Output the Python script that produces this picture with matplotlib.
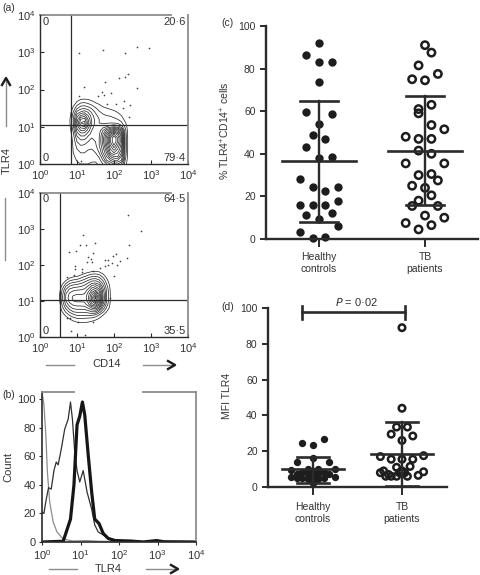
#!/usr/bin/env python3
"""Flow cytometry panels (a, b) and TLR4 scatter panels (c, d)."""
import matplotlib
matplotlib.use('Agg')
import matplotlib.pyplot as plt
import numpy as np

plt.rcParams['font.family'] = ['Liberation Sans', 'DejaVu Sans']
plt.rcParams['mathtext.default'] = 'regular'

W, H = 480, 575
DARK = '#2b2b2b'
GRAY = '#8c8c8c'
TXT = '#333333'

# --- panel (a) top: log10 density grid, rows from low to high TLR4
top_lx = [0.8, 0.9, 1.0, 1.1, 1.2, 1.3, 1.4, 1.5, 1.6, 1.7, 1.8, 1.9, 2.0, 2.1, 2.2, 2.3, 2.4]
top_ly = [0.0, 0.1, 0.2, 0.3, 0.4, 0.5, 0.6, 0.7, 0.8, 0.9, 1.0, 1.1, 1.2, 1.3, 1.4, 1.5, 1.6, 1.7, 1.8]
top_density = [
    [0, .3, .8, 1.0, 1.0, 1.0, .9, .9, 1.1, 2, 3, 4, 5, 5, 4, 1.5, 0],
    [0, .5, 1.1, 1.3, 1.3, 1.2, 1.1, 1.1, 1.6, 3, 5, 6, 7, 7, 6, 2, 0],
    [0, .8, 1.4, 1.6, 1.6, 1.4, 1.3, 1.5, 2.2, 4, 6, 8, 9, 9, 7, 2.5, 0],
    [0, 1.0, 1.7, 2.0, 2.0, 1.7, 1.6, 2.0, 3, 5, 7, 10, 11, 10, 8, 2.8, 0],
    [0, 1.1, 2.0, 2.5, 2.4, 2.1, 2.0, 2.5, 3.5, 5.5, 8, 11, 12.5, 11, 9, 3, 0],
    [0, 1.2, 2.4, 3.0, 2.9, 2.5, 2.4, 2.8, 4, 6, 9, 12, 14, 12, 9.5, 3, 0],
    [.1, 1.3, 3, 3.6, 3.5, 3, 2.8, 3, 4, 6.5, 9.5, 13, 15, 13, 10, 3, 0],
    [.2, 1.5, 3.6, 4.5, 4.5, 3.6, 3, 3.2, 4, 6.5, 9.5, 13, 15, 13, 10, 3, 0],
    [.3, 1.8, 4.5, 5.5, 5.5, 4.5, 3.5, 3.2, 3.8, 6, 8.5, 11, 13, 11.5, 9, 2.8, 0],
    [.5, 2.2, 5.5, 7, 7, 5.5, 4, 3.2, 3.5, 5, 6.5, 8, 9, 8.5, 6.5, 2.5, 0],
    [.7, 2.8, 6.5, 8.5, 9, 6.5, 4.5, 3.4, 3.2, 3.5, 4, 4.5, 5, 4.5, 3.5, 1.8, 0],
    [.8, 3, 7, 10, 10.5, 7.5, 5, 3.6, 3, 2.9, 2.9, 3, 3.0, 2.8, 2.2, 1.2, 0],
    [.8, 3, 6.5, 9, 9.5, 7, 4.8, 3.6, 3, 2.6, 2.4, 2.4, 2.2, 2, 1.6, .6, 0],
    [.6, 2.6, 5.5, 7, 7.5, 6, 4.4, 3.3, 2.6, 2.2, 2, 1.9, 1.7, 1.5, 1.0, .2, 0],
    [.3, 2, 4.2, 5, 5.5, 4.8, 3.7, 2.8, 2.1, 1.7, 1.5, 1.4, 1.2, .9, .5, 0, 0],
    [0, 1.3, 2.8, 3.6, 3.8, 3.4, 2.8, 2.1, 1.5, 1.2, 1.0, .8, .6, .3, 0, 0, 0],
    [0, .6, 1.7, 2.4, 2.5, 2.2, 1.8, 1.3, 1.0, .6, .3, .1, 0, 0, 0, 0, 0],
    [0, .1, .8, 1.3, 1.4, 1.3, 1.0, .6, .2, 0, 0, 0, 0, 0, 0, 0, 0],
    [0, 0, .1, .3, .4, .3, .1, 0, 0, 0, 0, 0, 0, 0, 0, 0, 0],
]
top_dots_lx = [1.06, 1.69, 2.31, 2.62, 2.94, 2.14, 2.31, 2.39, 1.77, 1.19, 2.62, 1.06,
               1.57, 1.68, 1.93, 1.73, 2.27, 2.43, 2.05, 1.82, 2.23, 2.41, 1.10]
top_dots_ly = [2.99, 3.06, 2.97, 3.15, 3.12, 2.32, 2.34, 2.42, 2.20, 2.06, 2.04, 1.83,
               1.83, 1.94, 1.91, 1.85, 1.69, 1.59, 1.60, 1.60, 1.51, 1.25, 0.07]

# --- panel (a) bottom
low_lx = [0.5, 0.6, 0.7, 0.8, 0.9, 1.0, 1.1, 1.2, 1.3, 1.4, 1.5, 1.6, 1.7, 1.8, 1.9, 2.0]
low_ly = [0.3, 0.4, 0.5, 0.6, 0.7, 0.8, 0.9, 1.0, 1.1, 1.2, 1.3, 1.4, 1.5, 1.6, 1.7, 1.8, 1.9]
low_density = [
    [0, 0, 0, 0, 0, 0, 0, 0, 0, 0, 0, 0, 0, 0, 0, 0],
    [0, 0, 0, .2, .6, .9, 1.0, 1.0, .9, .7, .4, .1, 0, 0, 0, 0],
    [0, 0, .5, 1.0, 1.5, 1.8, 1.9, 1.8, 1.7, 1.6, 1.3, .8, .2, 0, 0, 0],
    [0, .4, 1.2, 2.0, 2.6, 3, 3, 3, 3, 3, 2.6, 1.8, 1, .3, 0, 0],
    [0, 1.0, 2.2, 3.2, 4, 4.2, 4.2, 4.2, 4.5, 5, 5, 3.6, 2.2, 1, .1, 0],
    [0, 1.6, 3.2, 4.5, 5.2, 5.4, 5.4, 5.5, 6, 7, 7.5, 6, 3.6, 1.8, .5, 0],
    [0, 2.2, 4.2, 5.6, 6.2, 6.4, 6.4, 6.5, 7.5, 9.5, 10.5, 8.5, 5, 2.5, .8, 0],
    [.3, 2.6, 5, 6.4, 7, 7.2, 7.2, 7.2, 8.5, 11, 13.5, 10.5, 6, 3, 1, 0],
    [.5, 2.8, 5.2, 6.6, 7.2, 7.4, 7.3, 7.3, 8.8, 11.5, 14.5, 11, 6.2, 3, 1, 0],
    [.4, 2.6, 5, 6.2, 6.8, 6.9, 6.9, 7, 8.4, 10.5, 12.5, 10, 6, 3, 1, 0],
    [.1, 2.1, 4.2, 5.4, 5.8, 6, 6.1, 6.3, 7.4, 9, 10, 8.5, 5.5, 2.8, .9, 0],
    [0, 1.4, 3.1, 4.2, 4.6, 4.8, 5, 5.4, 6.2, 7.4, 8, 7, 4.6, 2.4, .7, 0],
    [0, .6, 1.8, 2.8, 3.2, 3.4, 3.8, 4.3, 5, 5.8, 6, 5.3, 3.6, 1.8, .4, 0],
    [0, 0, .6, 1.4, 1.8, 2, 2.4, 3, 3.6, 4.2, 4.3, 3.8, 2.6, 1.2, .1, 0],
    [0, 0, 0, .2, .6, .8, 1.2, 1.7, 2.2, 2.6, 2.7, 2.4, 1.5, .5, 0, 0],
    [0, 0, 0, 0, 0, 0, .1, .5, .9, 1.2, 1.3, 1.1, .5, 0, 0, 0],
    [0, 0, 0, 0, 0, 0, 0, 0, 0, 0, 0, 0, 0, 0, 0, 0],
]
low_dots_lx = [2.39, 2.73, 1.16, 2.41, 1.07, 1.25, 1.48, 0.78, 0.98, 1.44, 1.31, 1.37, 1.40, 1.26,
               0.95, 0.95, 1.13, 1.13, 1.76, 1.85, 2.05, 1.96, 2.35, 2.15, 1.94, 2.08, 1.85, 1.76,
               1.63, 1.44, 0.72, 0.92, 1.99, 0.81, 1.04, 0.83, 1.22, 0.72, 1.44, 1.90]
low_dots_ly = [3.40, 2.94, 2.83, 2.55, 2.55, 2.55, 2.62, 2.37, 2.40, 2.34, 2.23, 2.18, 2.07, 2.09,
               1.98, 1.88, 1.88, 1.80, 2.14, 2.14, 2.30, 2.25, 2.20, 2.11, 2.06, 2.00, 2.00, 1.97,
               1.91, 1.83, 1.66, 1.72, 1.70, 0.53, 0.43, 0.18, 0.06, 0.53, 0.43, 1.08]

# --- panel (b) histograms, x as log10 of TLR4
thin_lx = [0, .05, .11, .17, .24, .31, .37, .42, .50, .59, .68, .74, .79, .85, .91, .98,
           1.07, 1.17, 1.29, 1.37, 1.46, 1.59, 1.77, 2.2, 4]
thin_y = [21, 20, 30, 38, 37, 50, 56, 54, 65, 79, 86, 98, 86, 63, 50, 42,
          50, 35, 23, 12, 7, 5, 2, 0.5, 0]
iso_lx = [0, .05, .1, .14, .2, .29, .39, .55, .81, 1.16, 1.5, 4]
iso_y = [105, 96, 75, 49, 28, 14, 7, 2, 0.7, 1, 0.5, 0]
thick_lx = [0, .55, .63, .74, .83, .91, .98, 1.05, 1.11, 1.2, 1.29, 1.37, 1.48, 1.59, 1.72,
            1.9, 2.29, 2.63, 2.98, 3.16, 4]
thick_y = [0, 0.5, 7, 16, 40, 82, 88, 98, 89, 61, 35, 16, 13, 6, 2.5,
           1, 0.7, 0, 1, 0.2, 0]

# --- panel (c); offsets are swarm columns left/right of the group centre
groups = ['Healthy\ncontrols', 'TB\npatients']
c_healthy = [92, 86.5, 83, 83, 73.5, 59.5, 58.5, 54, 49, 47, 43, 38, 38.5, 28, 24.5, 24.5,
             22.5, 18, 16, 16, 16, 11.5, 12, 9.5, 3.5, 6, 0.5, 1]
c_healthy_col = [0, -2, 0, 2, 0, -2, 2, 0, -1, 1, -2, 0, 2, -3, -1, 3,
                 1, 3, -3, -1, 1, -2, 2, 0, -3, 3, -1, 1]
c_tb = [91, 87.5, 81.5, 77.5, 75, 74.5, 63, 61, 59, 53.5, 51.5, 48, 47, 47, 41.5, 40,
        35.5, 35.5, 30, 30.5, 27.5, 25, 24, 20.5, 18, 15.5, 15.5, 11, 10, 7.5, 6.5, 4.5]
c_tb_col = [0, 1, -1, 2, -2, 0, 1, -1, -1, 1, 3, -3, -1, 1, -1, 1,
            -3, 3, -1, 1, 2, -2, 0, 1, -1, -2, 2, 0, 3, -3, 1, -1]
c_mean = [36.5, 41.5]
c_upper = [65, 67]
c_lower = [8, 16]

# --- panel (d)
d_healthy = [24.5, 23.5, 27, 14, 16, 14, 9.5, 10, 10, 10, 5.5, 7, 5, 7, 6, 7, 5, 7, 5.5,
             8.5, 9, 8.5, 5, 4.5, 4.5, 2.5, 8, 8]
d_healthy_col = [-2, 0, 2, -3, 0, 3, -4, -1, 1, 4, -4, -3, -2, -1, 0, 1, 2, 3, 4,
                 -2, 0, 2, -3, -1, 1, 0, -1, 1]
d_tb = [89, 44, 33.5, 33.5, 29.5, 28.5, 26, 17, 17.5, 15.5, 15.5, 15.5, 9, 11.5, 8.5, 11,
        8, 6, 6, 6, 9, 6, 6.5, 7, 8, 8]
d_tb_col = [0, 0, -1, 1, -2, 2, 0, -4, 4, -2, 0, 2, -3.4, 1.5, 4, -1,
            -4, -3, -2, -1, 0, 1, 3, -2.5, -0.5, 0.5]
d_mean = [10, 18.5]
d_upper = [16.5, 36.5]
d_lower = [2, 0.5]

COL_STEP = 0.0607


def px_axes(fig, left, top, right, bottom):
    return fig.add_axes([left / W, 1 - bottom / H, (right - left) / W, (bottom - top) / H])


def style_log(ax):
    ax.set_xscale('log')
    ax.set_yscale('log')
    ax.set_xlim(1, 1e4)
    ax.set_ylim(1, 1e4)
    ax.set_xticks([1, 10, 100, 1000, 10000])
    ax.set_xticklabels(['$10^{%d}$' % i for i in range(5)])
    ax.set_yticks([1, 10, 100, 1000, 10000])
    ax.set_yticklabels(['$10^{%d}$' % i for i in range(5)])
    ax.tick_params(axis='both', which='major', direction='in', length=3, width=0.8,
                   labelsize=8, pad=3, colors=DARK, labelcolor=TXT)
    ax.tick_params(axis='x', which='minor', direction='in', length=1.5, width=0.5, colors=DARK)
    ax.tick_params(axis='y', which='minor', length=0)
    for s in ['left', 'bottom']:
        ax.spines[s].set_color(DARK)
        ax.spines[s].set_linewidth(1.0)
    ax.spines['right'].set_color(GRAY)
    ax.spines['right'].set_linewidth(1.3)
    ax.spines['top'].set_visible(False)


def flow_panel(ax, lx, ly, density, dots_x, dots_y, gate_x, gate_y, quads):
    style_log(ax)
    xx = 10 ** np.array(lx)
    yy = 10 ** np.array(ly)
    ax.contour(xx, yy, np.array(density), levels=np.arange(1, 15.5, 1), colors=DARK, linewidths=0.55)
    ax.scatter(10 ** np.array(dots_x), 10 ** np.array(dots_y), s=1.5, color='#444444', linewidths=0)
    ax.axvline(gate_x, color=DARK, lw=0.9)
    ax.axhline(gate_y, color=DARK, lw=0.9)
    ax.plot([1, 10 ** 3.55], [1e4, 1e4], color=GRAY, lw=1.3, clip_on=False)
    tl, tr, bl, br = quads
    ax.text(0.015, 0.955, tl, transform=ax.transAxes, fontsize=8, color=TXT, va='center')
    ax.text(0.985, 0.955, tr, transform=ax.transAxes, fontsize=8, color=TXT, va='center', ha='right')
    ax.text(0.015, 0.04, bl, transform=ax.transAxes, fontsize=8, color=TXT, va='center')
    ax.text(0.985, 0.04, br, transform=ax.transAxes, fontsize=8, color=TXT, va='center', ha='right')


def swarm_panel(ax, ylabel, label_x, sets, means, uppers, lowers, xlim, dot_s, ring_s, xpad):
    ax.set_xlim(*xlim)
    ax.set_ylim(0, 100)
    ax.set_xticks([1, 2])
    ax.set_xticklabels(groups, fontsize=7.5, color=TXT, linespacing=1.25)
    ax.set_yticks([0, 20, 40, 60, 80, 100])
    ax.tick_params(axis='y', length=4.5, width=1.4, color=DARK, labelsize=7.5, labelcolor=TXT, pad=3)
    ax.tick_params(axis='x', length=6, width=1.4, color=DARK, pad=xpad)
    for s in ['top', 'right']:
        ax.spines[s].set_visible(False)
    for s in ['left', 'bottom']:
        ax.spines[s].set_linewidth(1.7)
        ax.spines[s].set_color(DARK)
    ax.set_ylabel(ylabel, fontsize=7.5, color=TXT)
    ax.yaxis.set_label_coords(label_x, 0.51)
    for i, (vals, cols, filled) in enumerate(sets):
        xs = (i + 1) + np.array(cols) * COL_STEP
        if filled:
            ax.scatter(xs, vals, s=dot_s, color='#1d1d1d', linewidths=0, clip_on=False, zorder=2)
        else:
            ax.scatter(xs, vals, s=ring_s, facecolors='none', edgecolors='#1d1d1d', linewidths=1.8,
                       clip_on=False, zorder=2)
        x = i + 1
        ax.plot([x, x], [lowers[i], uppers[i]], color=DARK, lw=1.7, zorder=3)
        ax.plot([x - 0.345, x + 0.345], [means[i], means[i]], color=DARK, lw=1.9, zorder=3)
        for v in (lowers[i], uppers[i]):
            ax.plot([x - 0.18, x + 0.18], [v, v], color=DARK, lw=1.9, zorder=3)


fig = plt.figure(figsize=(W / 100, H / 100), dpi=100)

ax_a1 = px_axes(fig, 40, 15, 188, 164)
flow_panel(ax_a1, top_lx, top_ly, top_density, top_dots_lx, top_dots_ly, 6.9, 11,
           ('0', '20·6', '0', '79·4'))
ax_a2 = px_axes(fig, 40, 193, 188, 337)
flow_panel(ax_a2, low_lx, low_ly, low_density, low_dots_lx, low_dots_ly, 3.4, 10.8,
           ('0', '64·5', '0', '35·5'))

# histogram
ax_b = px_axes(fig, 42, 392, 196, 542)
ax_b.set_xscale('log')
ax_b.set_xlim(1, 1e4)
ax_b.set_ylim(0, 105)
ax_b.set_xticks([1, 10, 100, 1000, 10000])
ax_b.set_xticklabels(['$10^{%d}$' % i for i in range(5)])
ax_b.set_yticks([0, 20, 40, 60, 80, 100])
ax_b.tick_params(axis='both', which='major', direction='out', length=2.5, width=0.8,
                 labelsize=8, pad=2, colors=DARK, labelcolor=TXT)
ax_b.tick_params(axis='x', which='minor', length=0)
ax_b.plot(10 ** np.array(iso_lx), iso_y, color=GRAY, lw=0.9)
ax_b.plot(10 ** np.array(thin_lx), thin_y, color='#303030', lw=0.9)
ax_b.plot(10 ** np.array(thick_lx), thick_y, color='#161616', lw=2.3)
ax_b.spines['top'].set_visible(False)
ax_b.spines['left'].set_color(DARK)
ax_b.spines['left'].set_linewidth(1.2)
ax_b.spines['bottom'].set_color(DARK)
ax_b.spines['bottom'].set_linewidth(1.2)
ax_b.spines['right'].set_color(GRAY)
ax_b.spines['right'].set_linewidth(1.3)
ax_b.set_ylabel('Count', fontsize=8, color=TXT, labelpad=3)

# scatter panels
ax_c = px_axes(fig, 266, 26, 478, 239)
swarm_panel(ax_c, '% TLR4$^{+}$CD14$^{+}$ cells', -0.16,
            [(c_healthy, c_healthy_col, True), (c_tb, c_tb_col, False)],
            c_mean, c_upper, c_lower, (0.5, 2.5), 36, 28, 3)
ax_d = px_axes(fig, 268, 308, 447, 487)
swarm_panel(ax_d, 'MFI TLR4', -0.2,
            [(d_healthy, d_healthy_col, True), (d_tb, d_tb_col, False)],
            d_mean, d_upper, d_lower, (0.494, 2.506), 28, 22, 4.5)
ax_d.plot([0.876, 2.03], [97.5, 97.5], color=DARK, lw=1.9, clip_on=False)
for xb in (0.876, 2.03):
    ax_d.plot([xb, xb], [94, 101], color=DARK, lw=1.9, clip_on=False)

# annotations in pixel coordinates
ov = fig.add_axes([0, 0, 1, 1])
ov.set_xlim(0, W)
ov.set_ylim(H, 0)
ov.axis('off')
ov.patch.set_alpha(0)
for label, x, y in [('(a)', 2, 8), ('(b)', 2, 395), ('(c)', 221, 23), ('(d)', 221, 307)]:
    ov.text(x, y, label, fontsize=7.5, color=TXT, va='center')
ov.text(7, 160, 'TLR4', rotation=90, fontsize=8, color=TXT, ha='center', va='center')
ov.text(107, 364, 'CD14', fontsize=8, color=TXT, ha='center', va='center')
ov.text(108, 569, 'TLR4', fontsize=8, color=TXT, ha='center', va='center')
ov.text(357, 302, '$\\mathit{P}$ = 0·02', fontsize=8, color=TXT, ha='center', va='center')
for xs, ys in [([6, 6], [126, 80]), ([5, 5], [198, 260]), ([46, 74], [365, 365]),
               ([143, 172], [365, 365]), ([49, 77], [569, 569]), ([146, 175], [569, 569])]:
    ov.plot(xs, ys, color=GRAY, lw=1.0)
ov.plot([2, 6, 10], [85, 78, 85], color='#1d1d1d', lw=1.7)
ov.plot([168, 175, 168], [361, 365, 369], color='#1d1d1d', lw=1.7)
ov.plot([171, 178, 171], [565, 569, 573], color='#1d1d1d', lw=1.7)
# broken top frame of histogram
ov.plot([42, 74], [392, 392], color=GRAY, lw=1.3)
ov.plot([143, 196], [392, 392], color=GRAY, lw=1.3)

fig.savefig('out.png', dpi=100)
